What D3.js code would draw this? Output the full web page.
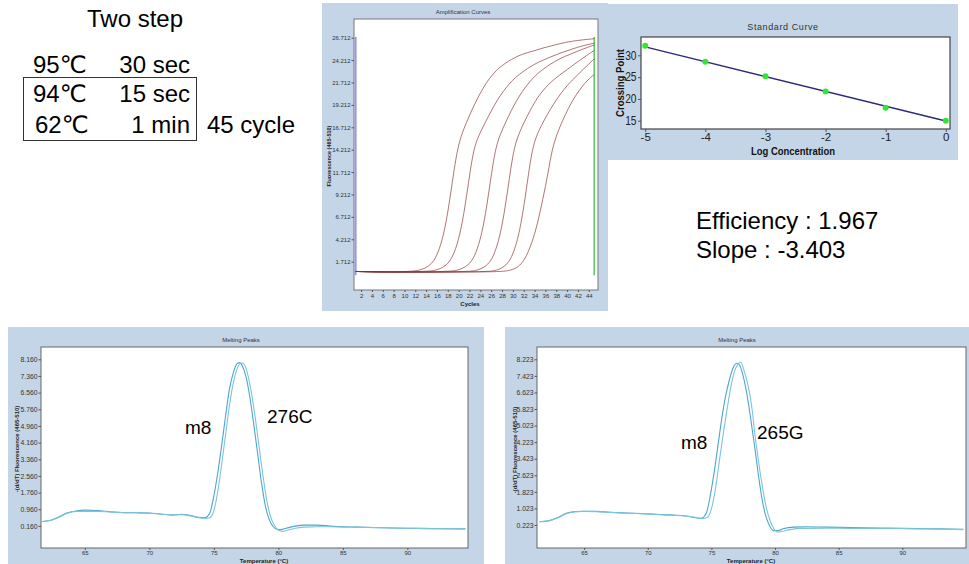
<!DOCTYPE html>
<html><head><meta charset="utf-8">
<script src="https://cdn.jsdelivr.net/npm/d3@7"></script>
<style>body{margin:0;background:#fff}svg{display:block}</style>
</head><body>
<svg id="c" width="969" height="564"></svg>
<script>
// ---------------- DATA ----------------
const protocolTitle = "Two step";
const protocolTemps = ["95℃", "94℃", "62℃"];
const protocolTimes = ["30 sec", "15 sec", "1 min"];
const protocolCycles = "45 cycle";

const efficiencyText = "Efficiency : 1.967";
const slopeText = "Slope : -3.403";

// Amplification curves: [cycle, fluorescence]
const amp1 = [[1,0.62],[4,0.55],[8,0.55],[11.7,0.65],[12.7,0.75],[13.7,0.95],[14.7,1.3],[15.7,2.0],[16.7,3.5],[17.7,6.0],[18.7,10.0],[19.7,14.2],[20.7,16.2],[21.7,17.6],[22.7,19.0],[23.7,20.2],[24.7,21.3],[25.7,22.2],[26.7,22.9],[27.7,23.5],[29.7,24.3],[31.7,24.9],[33.7,25.2],[35.7,25.6],[37.7,25.9],[39.7,26.2],[41.7,26.4],[45,26.6]];
const amp2 = [[1,0.62],[4,0.55],[10,0.55],[14.7,0.65],[15.7,0.75],[16.7,0.95],[17.7,1.3],[18.7,2.0],[19.7,3.5],[20.7,6.0],[21.7,10.0],[22.7,14.2],[23.7,15.8],[24.7,17.0],[25.7,18.2],[26.7,19.3],[27.7,20.3],[28.7,21.1],[29.7,21.8],[30.7,22.4],[32.7,23.3],[34.7,24.0],[36.7,24.5],[38.7,25.0],[40.7,25.4],[42.7,25.8],[45,26.1]];
const amp3 = [[1,0.62],[6,0.55],[14,0.55],[18.7,0.65],[19.7,0.75],[20.7,0.95],[21.7,1.3],[22.7,2.0],[23.7,3.5],[24.7,6.0],[25.7,10.0],[26.7,14.2],[27.7,16.0],[28.7,17.3],[29.7,18.6],[30.7,19.7],[31.7,20.7],[32.7,21.5],[33.7,22.2],[34.7,22.8],[36.7,23.7],[38.7,24.4],[40.7,24.9],[42.7,25.4],[45,25.9]];
const amp4 = [[1,0.62],[8,0.55],[16,0.55],[22.1,0.62],[23.1,0.72],[24.1,0.9],[25.1,1.25],[26.1,1.9],[27.1,3.4],[28.1,5.9],[29.1,9.9],[30.1,14.2],[31.1,16.0],[32.1,17.3],[33.1,18.5],[34.1,19.6],[35.1,20.5],[36.1,21.2],[37.1,21.8],[38.1,22.3],[40.1,23.2],[42.1,24.1],[45,25.3]];
const amp5 = [[1,0.62],[10,0.55],[18,0.55],[25.5,0.6],[26.5,0.7],[27.5,0.85],[28.5,1.2],[29.5,1.85],[30.5,3.3],[31.5,5.8],[32.5,9.8],[33.5,14.2],[34.5,16.0],[35.5,17.2],[36.5,18.3],[37.5,19.3],[38.5,20.2],[39.5,21.0],[40.5,21.7],[41.5,22.3],[43,23.2],[45,24.35]];
const amp6 = [[1,0.62],[10,0.55],[20,0.55],[28,0.58],[29.5,0.75],[30.5,0.95],[31.5,1.4],[32.5,2.3],[33.5,3.8],[34.5,5.8],[35.5,8.6],[36.5,11.6],[37.2,14.2],[38.2,16.1],[39.2,17.5],[40.2,18.8],[41.2,19.9],[42.2,20.8],[43.2,21.6],[44.2,22.2],[45,22.6]];
const ampXTicks = [2,4,6,8,10,12,14,16,18,20,22,24,26,28,30,32,34,36,38,40,42,44];
const ampYTicks = [1.712,4.212,6.712,9.212,11.712,14.212,16.712,19.212,21.712,24.212,26.712];
const ampRangeStart = 1, ampRangeEnd = 45;

// Standard curve
const stdLogConc = [-5, -4, -3, -2, -1, 0];
const stdCrossingPoint = [32.2, 28.5, 25.2, 21.7, 18.0, 15.0];
const stdSlope = -3.403;
const stdXTicks = [-5, -4, -3, -2, -1, 0];
const stdYTicks = [15, 20, 25, 30];

// Melting peaks (left: m8 / 276C)
const meltL_a = [[61.7,0.37],[62.3,0.42],[63,0.6],[63.6,0.78],[64.3,0.88],[65,0.92],[66,0.9],[67,0.84],[68,0.8],[69,0.79],[70,0.78],[71,0.72],[71.8,0.68],[72.5,0.72],[73.2,0.66],[73.8,0.57],[74.3,0.55],[74.7,0.8],[75.0,1.6],[75.3,2.7],[75.6,4.0],[75.9,5.4],[76.2,6.7],[76.5,7.5],[76.8,7.95],[77.0,8.0],[77.2,7.85],[77.5,7.3],[77.8,6.3],[78.1,5.0],[78.4,3.6],[78.7,2.2],[79.0,1.1],[79.3,0.45],[79.6,0.12],[79.9,0.0],[80.2,-0.02],[80.6,0.05],[81.2,0.14],[82,0.2],[83,0.2],[84,0.15],[86,0.1],[88,0.07],[90,0.05],[92,0.03],[94.5,0.02]];
const meltL_b = [[61.7,0.37],[62.3,0.42],[63,0.58],[63.6,0.76],[64.3,0.86],[65,0.86],[66,0.86],[67,0.82],[68,0.8],[69,0.79],[70,0.77],[71,0.72],[71.8,0.69],[72.5,0.7],[73.2,0.64],[73.8,0.56],[74.3,0.52],[74.7,0.55],[75.0,0.9],[75.3,1.8],[75.6,3.1],[75.9,4.5],[76.2,5.9],[76.5,7.0],[76.8,7.7],[77.1,7.98],[77.3,7.95],[77.6,7.5],[77.9,6.6],[78.2,5.4],[78.5,4.0],[78.8,2.6],[79.1,1.4],[79.4,0.6],[79.7,0.18],[80.0,-0.05],[80.3,-0.1],[80.7,-0.05],[81.3,0.05],[82,0.1],[83,0.12],[84,0.12],[86,0.1],[88,0.07],[90,0.05],[92,0.03],[94.5,0.02]];
// Melting peaks (right: m8 / 265G)
const meltR_a = [[61.5,0.38],[62.2,0.42],[63,0.6],[63.6,0.79],[64.3,0.87],[65,0.89],[66,0.88],[67,0.84],[68,0.81],[69,0.79],[70,0.76],[71,0.73],[72,0.7],[73,0.66],[73.7,0.58],[74.2,0.55],[74.6,0.8],[74.9,1.6],[75.2,2.7],[75.5,4.0],[75.8,5.3],[76.1,6.4],[76.4,7.2],[76.7,7.8],[77.0,8.03],[77.2,7.95],[77.5,7.4],[77.8,6.5],[78.1,5.3],[78.4,4.0],[78.7,2.6],[79.0,1.4],[79.3,0.6],[79.6,0.15],[79.9,-0.05],[80.2,-0.05],[80.7,0.05],[81.5,0.12],[82.5,0.14],[84,0.12],[86,0.1],[88,0.08],[90,0.06],[92,0.04],[94.8,0.02]];
const meltR_b = [[61.5,0.38],[62.2,0.42],[63,0.58],[63.6,0.77],[64.3,0.86],[65,0.88],[66,0.87],[67,0.83],[68,0.8],[69,0.78],[70,0.75],[71,0.72],[72,0.69],[73,0.65],[73.7,0.6],[74.3,0.54],[74.7,0.6],[75.0,1.0],[75.3,1.9],[75.6,3.2],[75.9,4.5],[76.2,5.7],[76.5,6.8],[76.8,7.6],[77.1,8.0],[77.3,8.08],[77.6,7.6],[77.9,6.9],[78.2,5.8],[78.4,4.7],[78.7,3.3],[79.0,2.1],[79.3,1.1],[79.6,0.45],[79.9,0.05],[80.2,-0.12],[80.6,-0.08],[81.2,0.0],[82,0.06],[84,0.07],[86,0.06],[88,0.06],[90,0.05],[92,0.03],[94.8,0.0]];
const meltXTicks = [65, 70, 75, 80, 85, 90];
const meltLYTicks = [0.16,0.96,1.76,2.56,3.36,4.16,4.96,5.76,6.56,7.36,8.16];
const meltRYTicks = [0.223,1.023,1.823,2.623,3.423,4.223,5.023,5.823,6.623,7.423,8.223];
const meltLLabels = ["m8", "276C"];
const meltRLabels = ["m8", "265G"];

// ---------------- DRAWING ----------------
const svg = d3.select("#c");
const BG = "#c4d5e7";
const SMALL = "'Liberation Sans', Arial, sans-serif";
const BIG = "'Liberation Sans', Arial, 'DejaVu Sans', sans-serif";

svg.append("rect").attr("width", 969).attr("height", 564).attr("fill", "#fff");

function styleAxis(g, fs, color) {
  g.select(".domain").remove();
  g.selectAll("text").attr("font-size", fs).attr("font-family", SMALL).attr("fill", color || "#333");
  g.selectAll("line").attr("stroke", "#555");
}

// ---- Protocol text ----
const prot = svg.append("g").attr("font-family", BIG).attr("font-size", 24).attr("fill", "#000");
prot.append("text").attr("x", 135).attr("y", 27).attr("text-anchor", "middle").text(protocolTitle);
const rowY = [72.5, 101.5, 132.5];
protocolTemps.forEach((t, i) => {
  prot.append("text").attr("x", 33 + (i === 2 ? 2 : 0)).attr("y", rowY[i]).text(t);
  prot.append("text").attr("x", 190).attr("y", rowY[i]).attr("text-anchor", "end").text(protocolTimes[i]);
});
prot.append("text").attr("x", 207).attr("y", rowY[2]).text(protocolCycles);
svg.append("rect").attr("x", 23.5).attr("y", 77.5).attr("width", 173).attr("height", 63)
  .attr("fill", "none").attr("stroke", "#333").attr("stroke-width", 1);

// ---- Amplification panel ----
svg.append("rect").attr("x", 322).attr("y", 3).attr("width", 286).attr("height", 308).attr("fill", BG);
const ampBox = {l: 354, t: 19, r: 598, b: 290};
svg.append("rect").attr("x", ampBox.l).attr("y", ampBox.t).attr("width", ampBox.r - ampBox.l).attr("height", ampBox.b - ampBox.t)
  .attr("fill", "#fff").attr("stroke", "#777").attr("stroke-width", 1);
const xAmp = d3.scaleLinear().domain([0.7, 45.7]).range([ampBox.l, ampBox.r]);
const yAmp = d3.scaleLinear().domain([-1.45, 28.8]).range([ampBox.b, ampBox.t]);
svg.append("text").attr("x", 463).attr("y", 14).attr("text-anchor", "middle")
  .attr("font-family", SMALL).attr("font-size", 6).attr("fill", "#333").text("Amplification Curves");
const gAx = svg.append("g").attr("transform", `translate(${ampBox.l},0)`)
  .call(d3.axisLeft(yAmp).tickValues(ampYTicks).tickFormat(d3.format(".3f")).tickSize(2.5).tickPadding(1));
styleAxis(gAx, 6);
const gAxX = svg.append("g").attr("transform", `translate(0,${ampBox.b})`)
  .call(d3.axisBottom(xAmp).tickValues(ampXTicks).tickFormat(d3.format("d")).tickSize(2).tickPadding(2));
styleAxis(gAxX, 6);
svg.append("text").attr("x", 470).attr("y", 306).attr("text-anchor", "middle")
  .attr("font-family", SMALL).attr("font-size", 6).attr("font-weight", "bold").attr("fill", "#222").text("Cycles");
svg.append("text").attr("transform", "translate(331,156) rotate(-90)").attr("text-anchor", "middle")
  .attr("font-family", SMALL).attr("font-size", 5.5).attr("font-weight", "bold").attr("fill", "#222").text("Fluorescence (465-510)");
// range markers
svg.append("line").attr("x1", xAmp(ampRangeStart)).attr("x2", xAmp(ampRangeStart)).attr("y1", yAmp(26.8)).attr("y2", yAmp(0.2))
  .attr("stroke", "#9c98e0").attr("stroke-width", 2);
svg.append("line").attr("x1", xAmp(ampRangeEnd)).attr("x2", xAmp(ampRangeEnd)).attr("y1", yAmp(26.8)).attr("y2", yAmp(0.2))
  .attr("stroke", "#5cc85c").attr("stroke-width", 1.5);
const ampLine = d3.line().x(d => xAmp(d[0])).y(d => yAmp(d[1])).curve(d3.curveBasis);
[amp1, amp2, amp3, amp4, amp5, amp6].forEach(c => {
  svg.append("path").attr("d", ampLine(c)).attr("fill", "none")
    .attr("stroke", "#862c2c").attr("stroke-opacity", 0.72).attr("stroke-width", 0.9);
});

// ---- Standard curve panel ----
svg.append("rect").attr("x", 605).attr("y", 4).attr("width", 353).attr("height", 156).attr("fill", BG);
const stdBox = {l: 641, t: 37, r: 950, b: 129};
svg.append("rect").attr("x", stdBox.l).attr("y", stdBox.t).attr("width", stdBox.r - stdBox.l).attr("height", stdBox.b - stdBox.t)
  .attr("fill", "#fff").attr("stroke", "#444").attr("stroke-width", 1.2);
const xStd = d3.scaleLinear().domain([-5.07, 0.07]).range([stdBox.l, stdBox.r]);
const yStd = d3.scaleLinear().domain([13.1, 34.2]).range([stdBox.b, stdBox.t]);
svg.append("text").attr("x", 783).attr("y", 30).attr("text-anchor", "middle").attr("letter-spacing", 0.6)
  .attr("font-family", SMALL).attr("font-size", 9).attr("fill", "#333").text("Standard Curve");
const gSy = svg.append("g").attr("transform", `translate(${stdBox.l},0)`)
  .call(d3.axisLeft(yStd).tickValues(stdYTicks).tickFormat(d3.format("d")).tickSize(3).tickPadding(1.5));
styleAxis(gSy, 12, "#222");
gSy.selectAll("text").attr("transform", "scale(0.85,1)").attr("x", -4.5 / 0.85);
const gSx = svg.append("g").attr("transform", `translate(0,${stdBox.b})`)
  .call(d3.axisBottom(xStd).tickValues(stdXTicks).tickFormat(d => d).tickSize(3).tickPadding(1));
styleAxis(gSx, 11.5, "#222");
svg.append("text").attr("x", 793).attr("y", 155).attr("text-anchor", "middle")
  .attr("font-family", SMALL).attr("font-size", 10).attr("font-weight", "bold").attr("fill", "#111")
  .attr("textLength", 84).attr("lengthAdjust", "spacingAndGlyphs").text("Log Concentration");
svg.append("text").attr("transform", "translate(624,83) rotate(-90)").attr("text-anchor", "middle")
  .attr("font-family", SMALL).attr("font-size", 10.5).attr("font-weight", "bold").attr("fill", "#111")
  .attr("textLength", 68).attr("lengthAdjust", "spacingAndGlyphs").text("Crossing Point");
const mx = d3.mean(stdLogConc), my = d3.mean(stdCrossingPoint);
const fit = x => my + stdSlope * (x - mx);
const ext = d3.extent(stdLogConc);
svg.append("line").attr("x1", xStd(ext[0])).attr("y1", yStd(fit(ext[0]))).attr("x2", xStd(ext[1])).attr("y2", yStd(fit(ext[1])))
  .attr("stroke", "#2d2b78").attr("stroke-width", 1.4);
svg.selectAll(".stdpt").data(stdLogConc).enter().append("circle")
  .attr("cx", d => xStd(d)).attr("cy", (d, i) => yStd(stdCrossingPoint[i])).attr("r", 3)
  .attr("fill", "#33e633");

// ---- Efficiency text ----
svg.append("text").attr("x", 696).attr("y", 229).attr("font-family", BIG).attr("font-size", 24).attr("fill", "#000").text(efficiencyText);
svg.append("text").attr("x", 696).attr("y", 258).attr("font-family", BIG).attr("font-size", 24).attr("fill", "#000").text(slopeText);

// ---- Melting panels ----
function meltPanel(cfg) {
  svg.append("rect").attr("x", cfg.bg[0]).attr("y", cfg.bg[1]).attr("width", cfg.bg[2]).attr("height", cfg.bg[3]).attr("fill", BG);
  const b = cfg.box;
  svg.append("rect").attr("x", b.l).attr("y", b.t).attr("width", b.r - b.l).attr("height", b.b - b.t)
    .attr("fill", "#fff").attr("stroke", "#666").attr("stroke-width", 1);
  const x = d3.scaleLinear().domain(cfg.xd).range([b.l, b.r]);
  const y = d3.scaleLinear().domain(cfg.yd).range([b.b, b.t]);
  svg.append("text").attr("x", cfg.titleX).attr("y", 342).attr("text-anchor", "middle")
    .attr("font-family", SMALL).attr("font-size", 6).attr("fill", "#333").text("Melting Peaks");
  const gy = svg.append("g").attr("transform", `translate(${b.l},0)`)
    .call(d3.axisLeft(y).tickValues(cfg.yt).tickFormat(d3.format(".3f")).tickSize(2.5).tickPadding(1));
  styleAxis(gy, 6.8);
  const gx = svg.append("g").attr("transform", `translate(0,${b.b})`)
    .call(d3.axisBottom(x).tickValues(meltXTicks).tickFormat(d3.format("d")).tickSize(2).tickPadding(1));
  styleAxis(gx, 6);
  svg.append("text").attr("x", cfg.xLabelX).attr("y", 563).attr("text-anchor", "middle")
    .attr("font-family", SMALL).attr("font-size", 6).attr("font-weight", "bold").attr("fill", "#222").text("Temperature (°C)");
  svg.append("text").attr("transform", `translate(${cfg.yLabelX},${cfg.yLabelY}) rotate(-90)`).attr("text-anchor", "middle")
    .attr("font-family", SMALL).attr("font-size", 6).attr("font-weight", "bold").attr("fill", "#222").text("-(d/dT) Fluorescence (465-510)");
  const line = d3.line().x(d => x(d[0])).y(d => y(d[1])).curve(d3.curveMonotoneX);
  svg.append("path").attr("d", line(cfg.a)).attr("fill", "none").attr("stroke", "#4ea4d0").attr("stroke-width", 1.1);
  svg.append("path").attr("d", line(cfg.b)).attr("fill", "none").attr("stroke", "#7cc5d6").attr("stroke-width", 1.1);
  svg.append("text").attr("x", cfg.l1[0]).attr("y", cfg.l1[1]).attr("font-family", BIG).attr("font-size", 19).text(cfg.labels[0]);
  svg.append("text").attr("x", cfg.l2[0]).attr("y", cfg.l2[1]).attr("font-family", BIG).attr("font-size", 19).text(cfg.labels[1]);
}
meltPanel({bg: [8, 327, 476, 237], box: {l: 41, t: 347, r: 468, b: 548}, xd: [61.6, 94.7], yd: [-0.9, 8.75],
  yt: meltLYTicks, a: meltL_a, b: meltL_b, titleX: 241, xLabelX: 264, yLabelX: 19, yLabelY: 449,
  labels: meltLLabels, l1: [185, 434], l2: [267, 423]});
meltPanel({bg: [505, 327, 464, 237], box: {l: 537, t: 347, r: 966, b: 548}, xd: [61.3, 95.0], yd: [-0.888, 8.817],
  yt: meltRYTicks, a: meltR_a, b: meltR_b, titleX: 737, xLabelX: 751, yLabelX: 517, yLabelY: 450,
  labels: meltRLabels, l1: [681, 449], l2: [757, 439]});
</script>
</body></html>
